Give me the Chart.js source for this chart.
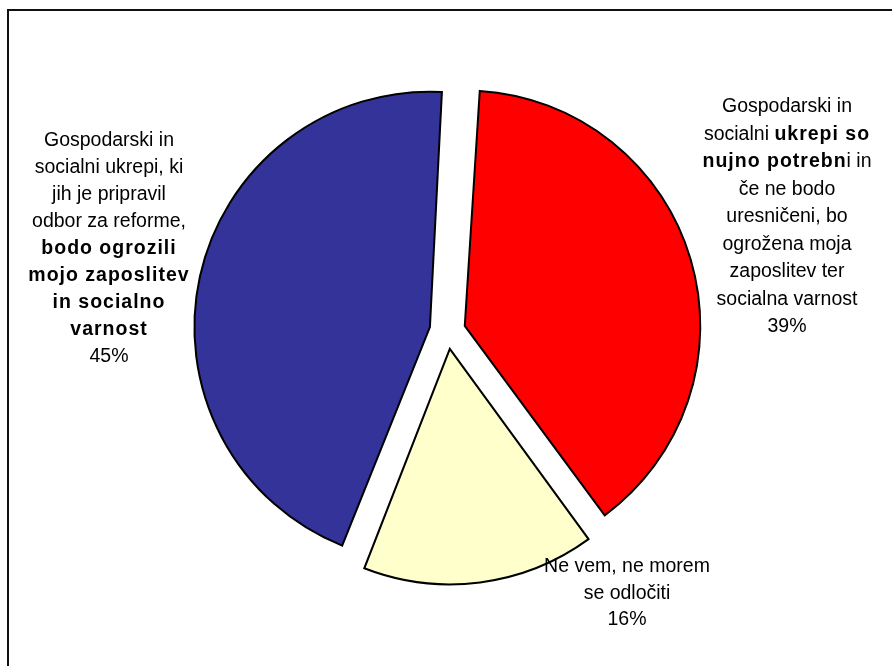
<!DOCTYPE html>
<html>
<head>
<meta charset="utf-8">
<script src="https://cdn.jsdelivr.net/npm/chart.js@4/dist/chart.umd.min.js"></script>
<style>
html,body{margin:0;padding:0;background:#fff;}
canvas{display:block;}
</style>
</head>
<body>
<canvas id="c" width="892" height="666"></canvas>
<script>
// ---- data ----
const categories = [
  "Gospodarski in socialni ukrepi so nujno potrebni in če ne bodo uresničeni, bo ogrožena moja zaposlitev ter socialna varnost",
  "Ne vem, ne morem se odločiti",
  "Gospodarski in socialni ukrepi, ki jih je pripravil odbor za reforme, bodo ogrozili mojo zaposlitev in socialno varnost"
];
const values = [39, 16, 45];
const colors = ['#FF0000', '#FFFFCC', '#333399'];

// label lines: runs of [text, bold]
const labelLines = [
  [[["Gospodarski in",0]], [["socialni ",0],["ukrepi so",1]], [["nujno potrebn",1],["i in",0]], [["če ne bodo",0]], [["uresničeni, bo",0]], [["ogrožena moja",0]], [["zaposlitev ter",0]], [["socialna varnost",0]]],
  [[["Ne vem, ne morem",0]], [["se odločiti",0]]],
  [[["Gospodarski in",0]], [["socialni ukrepi, ki",0]], [["jih je pripravil",0]], [["odbor za reforme,",0]], [["bodo ogrozili",1]], [["mojo zaposlitev",1]], [["in socialno",1]], [["varnost",1]]]
];

// ---- layout (not data) ----
const labelLayout = [
  {x: 787, y: 107, lh: 27.5},
  {x: 627, y: 567, lh: 26.5},
  {x: 109, y: 141, lh: 27}
];
const FONT_FAMILY = '"Liberation Sans", Arial, sans-serif';
const FONT_SIZE = 19.5;

const framePlugin = {
  id: 'frame',
  beforeDraw(chart) {
    const ctx = chart.ctx;
    ctx.save();
    ctx.fillStyle = '#fff';
    ctx.fillRect(0, 0, chart.width, chart.height);
    ctx.strokeStyle = '#111';
    ctx.lineWidth = 2;
    ctx.beginPath();
    ctx.moveTo(8, chart.height + 2);
    ctx.lineTo(8, 10);
    ctx.lineTo(chart.width + 2, 10);
    ctx.stroke();
    ctx.restore();
  }
};

// keep exploded slices at equal radius (Chart.js enlarges offset arcs)
const radiusFix = {
  id: 'radiusFix',
  afterDatasetsUpdate(chart) {
    const meta = chart.getDatasetMeta(0);
    meta.data.forEach(arc => {
      const off = ((arc.options && arc.options.offset) || 0) / 4;
      const fix = 1 - Math.sin(Math.min(Math.PI, arc.circumference || 0));
      arc.outerRadius = arc.outerRadius - off * fix;
    });
  }
};

const labelPlugin = {
  id: 'labels',
  afterDraw(chart) {
    const ctx = chart.ctx;
    ctx.save();
    ctx.fillStyle = '#000';
    ctx.textBaseline = 'middle';
    ctx.textAlign = 'left';
    const setFont = (bold) => {
      ctx.font = (bold ? 'bold ' : '') + FONT_SIZE + 'px ' + FONT_FAMILY;
      ctx.letterSpacing = bold ? '1px' : '0px';
    };
    labelLines.forEach((lines, i) => {
      const lay = labelLayout[i];
      const all = lines.concat([[[values[i] + '%', 0]]]);
      all.forEach((runs, j) => {
        let total = 0;
        const widths = runs.map(r => { setFont(r[1]); const w = ctx.measureText(r[0]).width; total += w; return w; });
        let x = lay.x - total / 2;
        const y = lay.y + j * lay.lh;
        runs.forEach((r, k) => {
          setFont(r[1]);
          ctx.fillText(r[0], x, y);
          x += widths[k];
        });
      });
    });
    ctx.restore();
  }
};

new Chart(document.getElementById('c').getContext('2d'), {
  type: 'pie',
  data: {
    labels: categories,
    datasets: [{
      data: values,
      backgroundColor: colors,
      borderColor: '#000',
      borderWidth: 2,
      borderJoinStyle: 'miter',
      offset: 72
    }]
  },
  options: {
    responsive: false,
    animation: false,
    events: [],
    rotation: 3.4,
    radius: 235.5,
    layout: {padding: {left: 3, right: 0, top: 0, bottom: 4}},
    plugins: {
      legend: {display: false},
      tooltip: {enabled: false}
    }
  },
  plugins: [framePlugin, radiusFix, labelPlugin]
});
</script>
</body>
</html>
